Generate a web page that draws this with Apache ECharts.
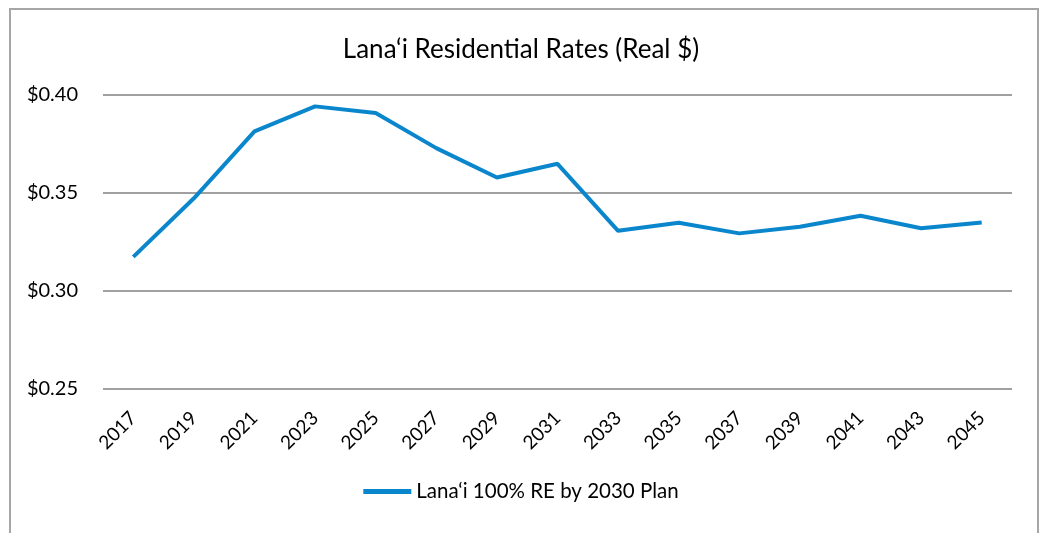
<!DOCTYPE html>
<html><head><meta charset="utf-8">
<script src="https://cdn.jsdelivr.net/npm/echarts@6/dist/echarts.min.js"></script>
<style>
html,body{margin:0;padding:0;background:#fff;}
#frame{position:absolute;left:9px;top:8px;width:1030px;height:540px;border:2px solid #a6a6a6;box-sizing:border-box;}
#c{position:absolute;left:0;top:0;width:1042px;height:533px;}
</style></head>
<body><div id="frame"></div><div id="c"></div>
<script>
const years = ['2017','2019','2021','2023','2025','2027','2029','2031','2033','2035','2037','2039','2041','2043','2045'];
const rates = [0.3174,0.3473,0.3814,0.3942,0.3908,0.3729,0.3579,0.3649,0.3307,0.3348,0.3294,0.3328,0.3384,0.3320,0.3350];
const seriesName = 'Lana\u2018i 100% RE by 2030 Plan';
const titleText = 'Lana\u2018i Residential Rates (Real $)';
const font = 'Lato, "DejaVu Sans", sans-serif';
const chart = echarts.init(document.getElementById('c'));
chart.setOption({
  animation:false,
  title:{text:titleText,left:'center',top:32,textStyle:{fontFamily:font,fontSize:26,fontWeight:'normal',color:'#000'}},
  legend:{bottom:26,left:'center',itemWidth:48,itemHeight:5,icon:'rect',
    textStyle:{fontFamily:font,fontSize:20.5,color:'#000'},data:[seriesName]},
  grid:{left:103,right:30,top:95,bottom:144},
  xAxis:{type:'category',data:years,boundaryGap:true,
    axisLine:{show:false},axisTick:{show:false},
    axisLabel:{rotate:45,fontFamily:font,fontSize:19,color:'#000',margin:26}},
  yAxis:{type:'value',min:0.25,max:0.40,interval:0.05,
    axisLine:{show:false},axisTick:{show:false},
    splitLine:{lineStyle:{color:'#a0a0a0',width:2}},
    axisLabel:{formatter:v=>'$'+v.toFixed(2),fontFamily:font,fontSize:20,color:'#000',margin:25}},
  series:[{name:seriesName,type:'line',data:rates,symbol:'none',
    lineStyle:{color:'#0a86cc',width:4},itemStyle:{color:'#0a86cc'}}]
});
</script></body></html>
